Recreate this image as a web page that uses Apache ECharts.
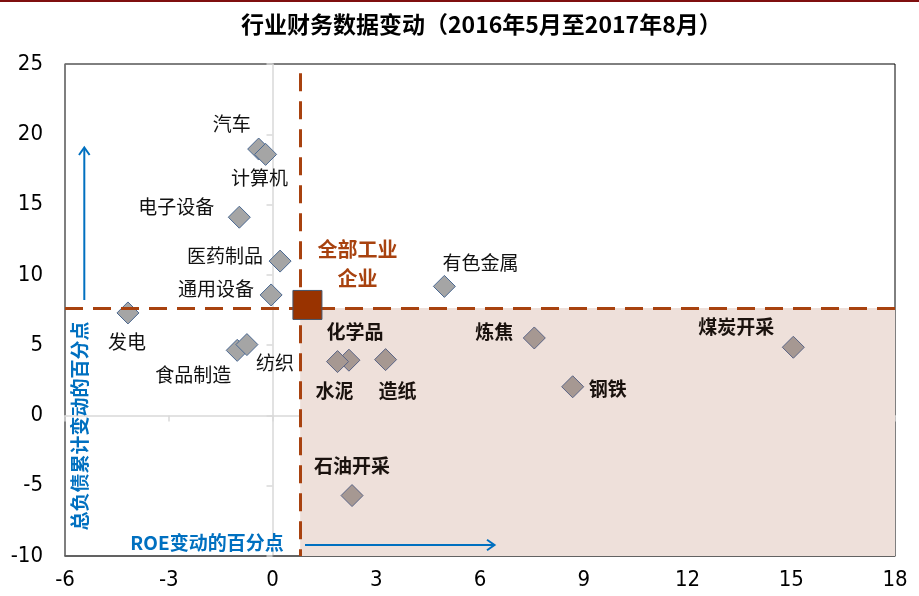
<!DOCTYPE html>
<html><head><meta charset="utf-8">
<script src="https://cdn.jsdelivr.net/npm/echarts@6/dist/echarts.min.js"></script>
<style>html,body{margin:0;padding:0;background:#fff}#c{width:919px;height:596px}</style>
</head><body><div id="c"></div>
<script>
// ---- data ----
const industries = ['汽车','计算机','电子设备','医药制品','通用设备','发电','食品制造','纺织','化学品','水泥','造纸','有色金属','炼焦','钢铁','煤炭开采','石油开采'];
const roeChange  = [-0.40,-0.20,-0.96,0.22,-0.04,-4.18,-1.02,-0.74,2.21,1.88,3.27,4.97,7.57,8.68,15.06,2.30];
const debtChange = [18.95,18.57,14.10,10.98,8.57,7.29,4.63,5.04,3.93,3.83,3.97,9.18,5.51,2.04,4.85,-5.70];
const totalName = ['全部工业', '企业'];
const totalRoe = [1.01];
const totalDebt = [7.86];
const refRoe = 0.8;
const refDebt = 7.65;
const xMin = -6, xMax = 18, xStep = 3;
const yMin = -10, yMax = 25, yStep = 5;
const titleText = '行业财务数据变动（2016年5月至2017年8月）';
const xName = 'ROE变动的百分点';
const yName = '总负债累计变动的百分点';

// ---- layout (label offsets in px, not data) ----
const labelOffsets = [[-27,-25],[-6,23],[-63,-10],[-55,-5],[-55,-6],[-1,29],[-44,24],[28,18],[6,-28],[-3,29],[12,31],[36,-24],[-40,-6],[35,2],[-57,-20],[0,-30]];

const CJK = '"Noto Sans CJK SC"';
const brown = '#A8420F';
const blue = '#0070C0';

const pts = industries.map((n, i) => {
  const inShade = roeChange[i] > refRoe && debtChange[i] < refDebt;
  return {
    name: n,
    value: [roeChange[i], debtChange[i]],
    itemStyle: inShade ? {color: '#A69892', borderColor: '#5A6485'} : undefined,
    label: {
      show: true, formatter: n, position: 'inside', offset: labelOffsets[i],
      fontFamily: CJK, fontSize: 19, fontWeight: inShade ? 'bold' : 'normal',
      color: inShade ? '#1A120E' : '#111', align: 'center', verticalAlign: 'middle'
    }
  };
});

const chart = echarts.init(document.getElementById('c'), null, {renderer: 'canvas'});
const tickFont = {fontFamily: '"DejaVu Sans Condensed","DejaVu Sans",sans-serif', fontSize: 22, color: '#000'};

chart.setOption({
  animation: false,
  backgroundColor: '#fff',
  title: {
    text: titleText, left: 236, top: 8,
    textStyle: {fontFamily: CJK, fontSize: 23, fontWeight: 'bold', color: '#000'}
  },
  grid: {left: 65, right: 24, top: 64, bottom: 40, show: true, borderColor: '#000', borderWidth: 1, backgroundColor: '#fff'},
  xAxis: [
    {type: 'value', min: xMin, max: xMax, interval: xStep, position: 'bottom',
     axisLine: {show: true, onZero: false, lineStyle: {color: '#595959', width: 1.5}},
     axisTick: {show: false}, splitLine: {show: false},
     axisLabel: Object.assign({margin: 13}, tickFont)},
    {type: 'value', min: xMin, max: xMax, interval: xStep, position: 'bottom',
     axisLine: {show: true, onZero: true, lineStyle: {color: '#D9D9D9', width: 1.5}},
     axisTick: {show: true, length: 6, lineStyle: {color: '#D9D9D9', width: 1.5}},
     splitLine: {show: false}, axisLabel: {show: false}}
  ],
  yAxis: [
    {type: 'value', min: yMin, max: yMax, interval: yStep, position: 'left',
     axisLine: {show: true, onZero: false, lineStyle: {color: '#7F7F7F', width: 1.5}},
     axisTick: {show: false}, splitLine: {show: false},
     axisLabel: Object.assign({margin: 22}, tickFont)},
    {type: 'value', min: yMin, max: yMax, interval: yStep, position: 'left',
     axisLine: {show: true, onZero: true, lineStyle: {color: '#D9D9D9', width: 1.5}},
     axisTick: {show: true, length: 6, lineStyle: {color: '#D9D9D9', width: 1.5}},
     splitLine: {show: false}, axisLabel: {show: false}}
  ],
  series: [
    {
      type: 'scatter', name: 'shade', z: 1, xAxisIndex: 0, yAxisIndex: 0, data: [],
      silent: true,
      markArea: {
        silent: true,
        itemStyle: {color: '#EEE0DA'},
        data: [[{coord: [refRoe, refDebt]}, {coord: [xMax, yMin]}]]
      }
    },
    {
      type: 'scatter', name: '行业', z: 2, xAxisIndex: 0, yAxisIndex: 0,
      symbol: 'diamond', symbolSize: 22,
      itemStyle: {color: '#A5A5A5', borderColor: '#4A6891', borderWidth: 1, opacity: 1},
      data: pts
    },
    {
      type: 'scatter', name: '全部工业企业', z: 5, xAxisIndex: 0, yAxisIndex: 0,
      symbol: 'rect', symbolSize: 29,
      itemStyle: {color: '#993300', borderColor: '#44546A', borderWidth: 1, opacity: 1},
      label: {
        show: true, position: 'inside', offset: [50, -41],
        formatter: totalName.join('\n'), fontFamily: CJK, fontSize: 20, fontWeight: 'bold',
        color: brown, lineHeight: 29, align: 'center', verticalAlign: 'middle'
      },
      data: totalRoe.map((v, i) => [v, totalDebt[i]]),
      markLine: {
        silent: true, symbol: ['none', 'none'], label: {show: false},
        lineStyle: {color: brown, width: 3, type: [18, 10]},
        data: [
          [{coord: [refRoe, 24.35]}, {coord: [refRoe, yMin]}],
          [{coord: [xMin, refDebt]}, {coord: [xMax, refDebt]}]
        ]
      }
    }
  ],
  graphic: [
    {type: 'rect', shape: {x: 0, y: 0, width: 919, height: 2}, style: {fill: '#7F0F0F'}, z: 10},
    {type: 'text', x: 80, y: 426, rotation: Math.PI / 2, z: 10,
     style: {text: yName, fill: blue, font: 'bold 19px ' + CJK, align: 'center', verticalAlign: 'middle'}},
    {type: 'text', x: 207, y: 543, z: 10,
     style: {text: xName, fill: blue, font: 'bold 19px ' + CJK, align: 'center', verticalAlign: 'middle'}},
    {type: 'line', z: 10, shape: {x1: 84.3, y1: 300, x2: 84.3, y2: 148}, style: {stroke: blue, lineWidth: 2}},
    {type: 'polyline', z: 10, shape: {points: [[79, 155], [84.3, 147.5], [89.6, 155]]}, style: {stroke: blue, lineWidth: 2, fill: null}},
    {type: 'line', z: 10, shape: {x1: 305, y1: 545, x2: 494, y2: 545}, style: {stroke: blue, lineWidth: 2}},
    {type: 'polyline', z: 10, shape: {points: [[487, 539.7], [494.5, 545], [487, 550.3]]}, style: {stroke: blue, lineWidth: 2, fill: null}}
  ]
});
</script></body></html>
